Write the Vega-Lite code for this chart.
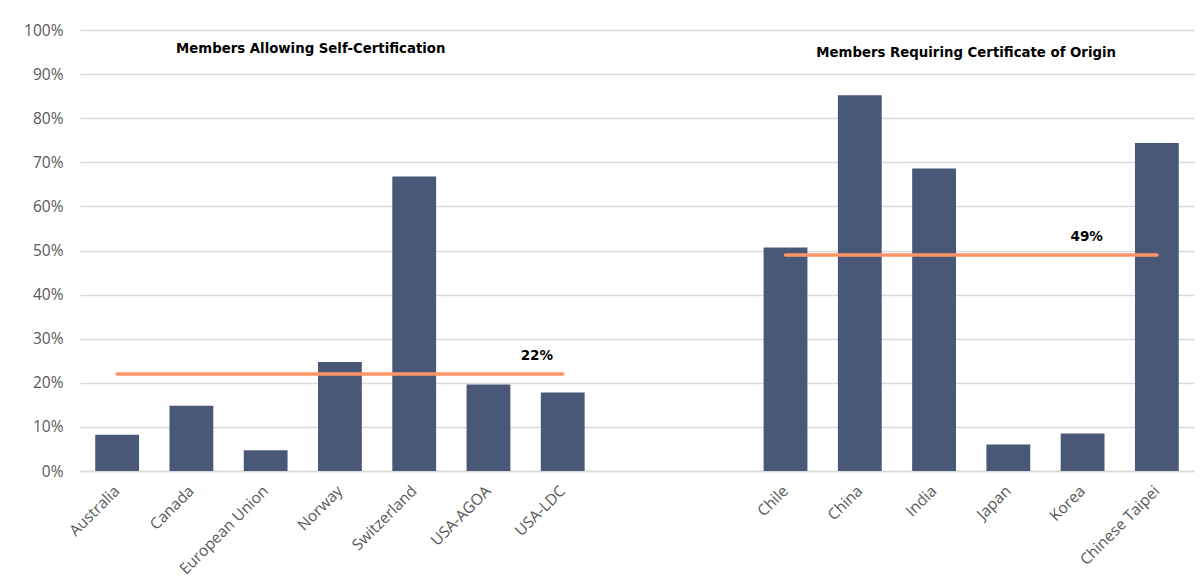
{
  "$schema": "https://vega.github.io/schema/vega-lite/v6.json",
  "autosize": "none",
  "width": 1114,
  "height": 441,
  "padding": {"left": 80, "top": 30, "right": 6, "bottom": 116},
  "background": "white",
  "config": {
    "view": {"stroke": null},
    "font": "DejaVu Sans"
  },
  "datasets": {
    "bars": [
      {"member": "Australia", "share": 0.082},
      {"member": "Canada", "share": 0.148},
      {"member": "European Union", "share": 0.047},
      {"member": "Norway", "share": 0.247},
      {"member": "Switzerland", "share": 0.668},
      {"member": "USA-AGOA", "share": 0.196},
      {"member": "USA-LDC", "share": 0.178},
      {"member": "Chile", "share": 0.507},
      {"member": "China", "share": 0.852},
      {"member": "India", "share": 0.686},
      {"member": "Japan", "share": 0.06},
      {"member": "Korea", "share": 0.085},
      {"member": "Chinese Taipei", "share": 0.744}
    ],
    "avgs": [
      {"start": "Australia", "end": "USA-LDC", "avg": 0.22, "label": "22%", "labelAt": "USA-LDC", "off": -4},
      {"start": "Chile", "end": "Chinese Taipei", "avg": 0.49, "label": "49%", "labelAt": "Korea", "off": 26}
    ],
    "titles": [
      {"at": "European Union", "y": 0.957, "text": "Members Allowing Self-Certification", "off": 67},
      {"at": "India", "y": 0.948, "text": "Members Requiring Certificate of Origin", "off": 54}
    ]
  },
  "layer": [
    {
      "data": {"name": "bars"},
      "mark": {"type": "bar", "color": "#4A5878"},
      "encoding": {
        "x": {
          "field": "member",
          "type": "nominal",
          "sort": null,
          "scale": {
            "domain": ["Australia", "Canada", "European Union", "Norway", "Switzerland", "USA-AGOA", "USA-LDC", " ", "  ", "Chile", "China", "India", "Japan", "Korea", "Chinese Taipei"],
            "paddingInner": 0.41,
            "paddingOuter": 0.205
          },
          "axis": {
            "title": null,
            "labelAngle": -45,
            "labelAlign": "right",
            "labelBaseline": "middle",
            "labelFont": "Open Sans",
            "labelFontSize": 15.5,
            "labelColor": "#595959",
            "labelPadding": 17,
            "labelOverlap": false,
            "ticks": false,
            "domain": true,
            "domainColor": "#d9d9d9",
            "domainWidth": 1.5,
            "grid": false
          }
        },
        "y": {
          "field": "share",
          "type": "quantitative",
          "scale": {"domain": [0, 1]},
          "axis": {
            "title": null,
            "format": ".0%",
            "values": [0, 0.1, 0.2, 0.3, 0.4, 0.5, 0.6, 0.7, 0.8, 0.9, 1],
            "labelOverlap": false,
            "labelFont": "Open Sans",
            "labelFontSize": 15.5,
            "labelColor": "#595959",
            "labelPadding": 17,
            "ticks": false,
            "domain": false,
            "grid": true,
            "gridColor": "#d9d9d9",
            "gridWidth": 1.3
          }
        }
      }
    },
    {
      "data": {"name": "avgs"},
      "mark": {"type": "rule", "color": "#FF9466", "strokeWidth": 3.5, "strokeCap": "round"},
      "encoding": {
        "x": {"field": "start", "type": "nominal"},
        "x2": {"field": "end"},
        "y": {"field": "avg", "type": "quantitative"}
      }
    },
    {
      "data": {"name": "avgs"},
      "mark": {"type": "text", "font": "DejaVu Sans", "fontWeight": "bold", "fontSize": 13.5, "color": "black", "dy": -18},
      "encoding": {
        "x": {"field": "labelAt", "type": "nominal"},
        "xOffset": {"field": "off", "type": "quantitative", "scale": null},
        "y": {"field": "avg", "type": "quantitative"},
        "text": {"field": "label"}
      }
    },
    {
      "data": {"name": "titles"},
      "mark": {"type": "text", "font": "DejaVu Sans", "fontWeight": "bold", "fontSize": 13.3, "color": "black"},
      "encoding": {
        "x": {"field": "at", "type": "nominal"},
        "xOffset": {"field": "off", "type": "quantitative", "scale": null},
        "y": {"field": "y", "type": "quantitative"},
        "text": {"field": "text"}
      }
    }
  ]
}
